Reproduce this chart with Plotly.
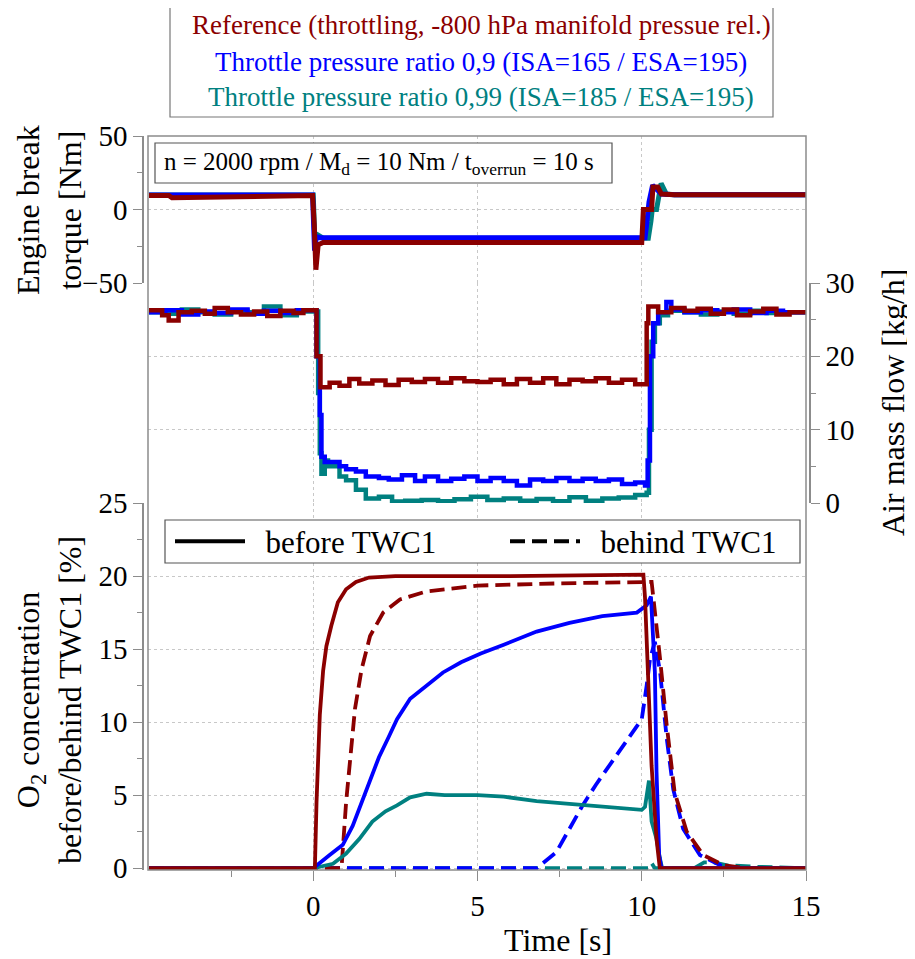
import plotly.graph_objects as go

# colours of the three test variants
RED = "rgb(139,0,0)"
BLUE = "rgb(0,0,255)"
TEAL = "rgb(0,128,128)"

# ---- engine brake torque [Nm]
t_tq_ref = [-5, -4.4, -4.3, -1.0, -0.02, 0.03, 0.08, 0.15, 0.3, 10.0, 10.05, 10.3, 10.34, 10.49, 10.6, 11.0, 15]
tq_ref = [9.5, 9.5, 8.0, 9.5, 9.5, -10, -41, -24, -22.4, -22.4, 0, 0, 15.3, 15.3, 10.5, 10, 10]
t_tq_isa165 = [-5, -0.02, 0.04, 0.1, 0.2, 10.1, 10.15, 10.22, 10.33, 10.45, 10.6, 11.0, 15]
tq_isa165 = [9.8, 9.8, -28, -18.5, -19.2, -19.2, -10, 5, 16.4, 14, 10.5, 10, 10]
t_tq_isa185 = [-5, 0.0, 0.05, 0.12, 0.3, 10.2, 10.28, 10.32, 10.45, 10.52, 10.59, 10.75, 11.0, 15]
tq_isa185 = [9.8, 9.8, -22, -17, -19.5, -19.5, -8, 0, 0, 12, 17.8, 10.5, 10, 10]

# ---- air mass flow [kg/h]
t_air_ref = [-5, -4.6, -4.4, -4.1, -3.7, -3.3, -3.0, -2.6, -2.2, -1.8, -1.4, -1.0, -0.6, -0.3, 0.1, 0.22,
             0.5, 0.8, 1.1, 1.4, 1.8, 2.2, 2.6, 3.0, 3.4, 3.8, 4.2, 4.6, 5.0, 5.4, 5.8, 6.2, 6.6, 7.0,
             7.4, 7.8, 8.2, 8.6, 9.0, 9.4, 9.8, 10.15, 10.2, 10.5, 10.9, 11.3, 11.7, 12.1, 12.5, 12.9,
             13.3, 13.7, 14.1, 14.5, 15]
air_ref = [26.3, 25.6, 24.9, 26.0, 26.2, 25.8, 26.6, 26.0, 25.7, 26.1, 25.5, 26.2, 25.9, 26.3, 20.0, 15.8,
           16.4, 16.0, 16.9, 16.3, 16.7, 16.1, 16.8, 16.5, 16.9, 16.4, 17.0, 16.6, 16.5, 16.8, 16.2, 16.9,
           16.4, 17.0, 16.2, 16.8, 16.6, 17.0, 16.4, 16.8, 16.2, 24.5, 26.8, 26.0, 26.6, 26.2, 26.5, 25.8,
           26.4, 25.6, 26.1, 26.5, 25.7, 26.0, 26.0]
t_air_isa165 = [-5, -4.5, -4.0, -3.5, -3.0, -2.5, -2.0, -1.5, -1.0, -0.5, 0.1, 0.2, 0.25, 0.35, 0.8, 1.0,
                1.3, 1.6, 2.0, 2.3, 2.7, 3.1, 3.4, 3.8, 4.2, 4.6, 5.0, 5.4, 5.8, 6.2, 6.6, 7.0, 7.4, 7.8,
                8.2, 8.6, 9.0, 9.4, 9.8, 10.1, 10.18, 10.25, 10.35, 10.5, 10.75, 10.9, 11.3, 11.8, 12.3,
                12.8, 13.3, 13.8, 14.3, 15]
air_isa165 = [26.0, 26.3, 25.7, 26.1, 25.9, 26.4, 25.8, 26.2, 25.9, 26.3, 20, 12, 6.3, 5.6, 5.0, 4.6,
              4.3, 3.6, 3.4, 3.2, 3.8, 3.0, 3.6, 3.0, 3.3, 3.6, 3.0, 3.4, 3.0, 2.4, 3.2, 3.0, 3.4, 3.0,
              3.3, 3.0, 3.2, 2.6, 2.8, 2.4, 5.8, 20, 24.5, 26, 27.4, 26.4, 26.0, 26.3, 26.0,
              26.4, 25.9, 26.2, 26.0, 26.0]
t_air_isa185 = [-5, -4.5, -4.0, -3.5, -3.0, -2.5, -2.0, -1.5, -1.0, -0.5, 0.15, 0.2, 0.25, 0.35, 0.45,
                0.8, 1.0, 1.3, 1.6, 2.0, 2.4, 2.8, 3.3, 3.8, 4.3, 4.8, 5.3, 5.8, 6.3, 6.8, 7.3, 7.8, 8.3,
                8.8, 9.3, 9.8, 10.15, 10.22, 10.3, 10.4, 10.55, 10.8, 11.3, 11.8, 12.3, 12.8, 13.3, 13.8,
                14.3, 15]
air_isa185 = [26.0, 25.8, 26.4, 26.0, 25.7, 26.2, 26.0, 26.8, 25.6, 26.1, 15, 6.8, 4.0, 5.8, 5.0,
              3.6, 3.1, 1.8, 0.6, 0.85, 0.2, 0.3, 0.4, 0.25, 0.5, 0.85, 0.4, 0.6, 0.3, 0.55, 0.25, 0.8, 0.3,
              0.6, 0.75, 1.1, 1.4, 10, 22, 24.5, 25.6, 26.2, 26.0, 25.7, 26.1, 25.8, 26.2, 25.9,
              26.0, 26.0]

# ---- O2 concentration [%], before (solid) and behind (dashed) TWC1
t_o2_ref_before = [-5, 0.05, 0.1, 0.15, 0.2, 0.3, 0.4, 0.55, 0.75, 1.0, 1.3, 1.7, 2.5, 6.0, 10.0, 10.05,
                   10.1, 10.2, 10.3, 10.45, 10.55, 15]
o2_ref_before = [0, 0, 4.5, 8.0, 10.5, 13.5, 15.2, 16.6, 18.2, 19.1, 19.6, 19.9, 20.0, 20.0, 20.05, 20.1,
                 18.5, 12.5, 7.0, 2.0, 0, 0]
t_o2_ref_behind = [-5, 0.86, 1.0, 1.12, 1.27, 1.47, 1.73, 2.13, 2.64, 3.45, 5.0, 7.5, 10.0, 10.3, 10.55,
                   10.76, 11.0, 11.37, 11.87, 12.5, 13.2, 15]
o2_ref_behind = [0, 0, 4.5, 7.5, 10.9, 13.6, 15.9, 17.5, 18.4, 18.95, 19.35, 19.5, 19.6, 19.6, 14.5,
                 9.8, 5.2, 2.5, 0.9, 0.2, 0, 0]
t_o2_isa165_before = [-5, 0.0, 0.5, 0.9, 1.2, 1.5, 1.75, 2.0, 2.3, 2.55, 2.95, 3.45, 3.95, 4.5, 5.1, 5.8,
                      6.8, 7.8, 8.8, 9.85, 10.05, 10.15, 10.28, 10.4, 10.45, 10.53, 10.6, 15]
o2_isa165_before = [0, 0, 0.9, 1.6, 2.9, 4.7, 6.1, 7.6, 9.0, 10.2, 11.6, 12.5, 13.4, 14.1, 14.7, 15.3,
                    16.2, 16.8, 17.25, 17.5, 17.8, 18.0, 18.6, 13.4, 6.6, 0.9, 0, 0]
t_o2_isa165_behind = [-5, 6.8, 7.4, 7.8, 8.2, 8.6, 9.1, 9.6, 10.0, 10.15, 10.25, 10.4, 10.56, 10.76,
                      10.96, 11.26, 11.77, 12.4, 13.0, 15]
o2_isa165_behind = [0, 0, 1.1, 2.7, 4.3, 5.7, 7.3, 8.9, 10.2, 12.5, 14.3, 15.5, 13.4, 8.9,
                    5.4, 2.7, 0.9, 0.2, 0, 0]
t_o2_isa185_before = [-5, 0.0, 0.6, 1.0, 1.4, 1.8, 2.2, 2.55, 2.95, 3.45, 4.0, 5.0, 5.8, 6.8, 7.8, 8.8,
                      10.0, 10.1, 10.22, 10.3, 10.45, 10.55, 10.62, 15]
o2_isa185_before = [0, 0, 0.3, 1.0, 2.0, 3.2, 3.9, 4.3, 4.85, 5.1, 5.0, 5.0, 4.9, 4.6, 4.4, 4.2,
                    4.0, 4.2, 6.0, 3.2, 2.0, 0.7, 0, 0]
t_o2_isa185_behind = [-5, 10.2, 10.3, 10.4, 11.6, 11.9, 12.2, 12.6, 13.5, 15]
o2_isa185_behind = [0, 0, 0.35, 0, 0, 0.4, 0.4, 0.2, 0.1, 0]

legend_lines = [
    ("Reference (throttling, -800 hPa manifold pressue rel.)", RED),
    ("Throttle pressure ratio 0,9 (ISA=165 / ESA=195)", BLUE),
    ("Throttle pressure ratio 0,99 (ISA=185 / ESA=195)", TEAL),
]

DASH = "15px,7px"
AXC = "#8c8c8c"
GRID = "#c8c8c8"

fig = go.Figure()

# torque panel
for t, v, c in [(t_tq_isa185, tq_isa185, TEAL), (t_tq_isa165, tq_isa165, BLUE), (t_tq_ref, tq_ref, RED)]:
    fig.add_trace(go.Scatter(x=t, y=v, mode="lines", line=dict(color=c, width=5),
                             xaxis="x", yaxis="y", showlegend=False))

# air mass flow panel
for t, v, c in [(t_air_isa185, air_isa185, TEAL), (t_air_isa165, air_isa165, BLUE), (t_air_ref, air_ref, RED)]:
    fig.add_trace(go.Scatter(x=t, y=v, mode="lines", line=dict(color=c, width=4.5, shape="hv"),
                             xaxis="x", yaxis="y2", showlegend=False))

# O2 panel
o2_series = [
    (t_o2_isa185_behind, o2_isa185_behind, TEAL, DASH),
    (t_o2_isa165_behind, o2_isa165_behind, BLUE, DASH),
    (t_o2_ref_behind, o2_ref_behind, RED, DASH),
    (t_o2_isa185_before, o2_isa185_before, TEAL, "solid"),
    (t_o2_isa165_before, o2_isa165_before, BLUE, "solid"),
    (t_o2_ref_before, o2_ref_before, RED, "solid"),
]
for t, v, c, d in o2_series:
    fig.add_trace(go.Scatter(x=t, y=v, mode="lines", line=dict(color=c, width=3.8, dash=d),
                             xaxis="x", yaxis="y3", showlegend=False))

# legend entries for line style
fig.add_trace(go.Scatter(x=[None], y=[None], mode="lines", name="&nbsp;&nbsp;before TWC1",
                         line=dict(color="black", width=4), xaxis="x", yaxis="y3", legend="legend2"))
fig.add_trace(go.Scatter(x=[None], y=[None], mode="lines", name="&nbsp;&nbsp;behind TWC1",
                         line=dict(color="black", width=4, dash=DASH), xaxis="x", yaxis="y3", legend="legend2"))

# page body has an 8 px margin, so the figure is laid out 8 px smaller
PW, PH = 667.0, 734.0  # plot area in px


def px(x):
    return (x - 143) / PW


def py(y):
    return (870 - y) / PH


common_y = dict(showline=True, linecolor=AXC, linewidth=1.5, ticks="outside", ticklen=9,
                tickcolor=AXC, showgrid=True, gridcolor=GRID, griddash="dot", gridwidth=1,
                zeroline=False, anchor="free", automargin=False, tickfont=dict(size=29))

fig.update_layout(
    width=907, height=951,
    margin=dict(l=135, r=105, t=128, b=89, autoexpand=False),
    plot_bgcolor="white", paper_bgcolor="white",
    font=dict(family="Liberation Serif", size=29, color="black"),
    xaxis=dict(domain=[5 / PW, 663 / PW], range=[-5.03, 15], tickvals=[0, 5, 10, 15],
               ticks="outside", ticklen=10, tickcolor=AXC, showgrid=True, gridcolor=GRID,
               griddash="dot", zeroline=False, showline=False, anchor="y3", automargin=False,
               minor=dict(tickvals=[-2.5, 2.5, 7.5, 12.5], ticks="outside", ticklen=6,
                          tickcolor=AXC, showgrid=False),
               tickfont=dict(size=29)),
    yaxis=dict(domain=[py(283), 1], range=[-50, 50], tickvals=[-50, 0, 50], position=0,
               minor=dict(tickvals=[-25, 25], ticks="outside", ticklen=5, tickcolor=AXC), **common_y),
    yaxis2=dict(domain=[0.5, py(283)], range=[0, 30], tickvals=[0, 10, 20, 30], position=1, side="right",
                minor=dict(tickvals=[5, 15, 25], ticks="outside", ticklen=5, tickcolor=AXC), **common_y),
    yaxis3=dict(domain=[0, 0.5], range=[-0.12, 25], tickvals=[0, 5, 10, 15, 20, 25], position=0,
                minor=dict(tickvals=[2.5, 7.5, 12.5, 17.5, 22.5], ticks="outside", ticklen=5, tickcolor=AXC),
                **common_y),
    legend2=dict(x=px(170), y=py(541.5), xanchor="left", yanchor="middle", orientation="h",
                 bgcolor="rgba(0,0,0,0)", borderwidth=0, font=dict(size=31),
                 itemwidth=70, entrywidth=250, entrywidthmode="pixels"),
    shapes=[
        dict(type="rect", xref="paper", yref="paper", x0=5 / PW, x1=663 / PW, y0=0, y1=1,
             line=dict(color=AXC, width=1.5), layer="above"),
        dict(type="rect", xref="paper", yref="paper", x0=px(170), x1=px(773), y0=py(117), y1=py(5),
             line=dict(color="#777777", width=1.2), fillcolor="white"),
        dict(type="rect", xref="paper", yref="paper", x0=px(155), x1=px(612), y0=py(183), y1=py(143),
             line=dict(color="#555555", width=1.2), fillcolor="white", layer="above"),
        dict(type="rect", xref="paper", yref="paper", x0=px(165), x1=px(800), y0=py(563), y1=py(520),
             line=dict(color="#555555", width=1.2), fillcolor="white", layer="above"),
    ],
)

annotations = []
for (txt, col), yy in zip(legend_lines, [25, 62, 97]):
    annotations.append(dict(text=txt, x=px(481), y=py(yy), xref="paper", yref="paper", showarrow=False,
                            xanchor="center", yanchor="middle", font=dict(size=27, color=col)))
annotations += [
    dict(text="n = 2000 rpm / M<sub>d</sub> = 10 Nm / t<sub>overrun</sub> = 10 s", x=px(162), y=py(163),
         xref="paper", yref="paper", showarrow=False, xanchor="left", yanchor="middle", font=dict(size=25)),
    dict(text="Engine break<br>torque [Nm]", x=px(49), y=py(210), xref="paper", yref="paper",
         xanchor="center", yanchor="middle", showarrow=False, textangle=-90, font=dict(size=32)),
    dict(text="O<sub>2</sub> concentration<br>before/behind TWC1 [%]", x=px(49), y=py(700), xref="paper",
         yref="paper", xanchor="center", yanchor="middle", showarrow=False, textangle=-90,
         font=dict(size=32)),
    dict(text="Air mass flow [kg/h]", x=px(893), y=py(402), xref="paper", yref="paper",
         xanchor="center", yanchor="middle", showarrow=False, textangle=-90, font=dict(size=32)),
    dict(text="Time [s]", x=px(558), y=py(940), xref="paper", yref="paper", showarrow=False,
         xanchor="center", yanchor="middle", font=dict(size=32)),
]
fig.update_layout(annotations=annotations)

fig.write_html("out.html")
